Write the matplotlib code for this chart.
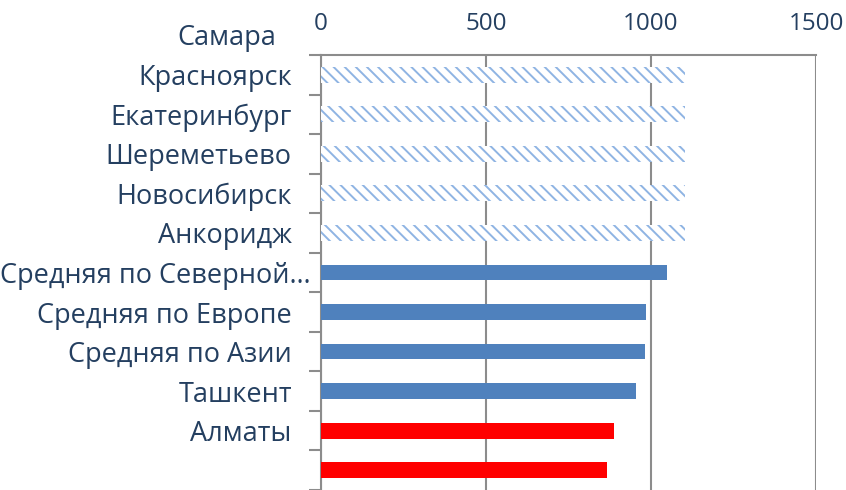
import numpy as np
import matplotlib
matplotlib.use("Agg")
import matplotlib.pyplot as plt
import matplotlib.transforms as mtransforms

# --- Data --------------------------------------------------------------------

# labels as they appear on the axis (shifted one slot up, as in the original)
top_label = "Самара"
labels = [
    "Красноярск",
    "Екатеринбург",
    "Шереметьево",
    "Новосибирск",
    "Анкоридж",
    "Средняя по Северной…",
    "Средняя по Европе",
    "Средняя по Азии",
    "Ташкент",
    "Алматы",
]

hatched_values = [1103, 1103, 1103, 1103, 1103]
blue_values = [1048, 985, 982, 955]
red_values = [888, 867]

TEXT = "#243F60"
GRID = "#8C8C8C"
BLUE = "#4F81BD"
HATCH_BLUE = "#8FB4E3"

plt.rcParams["font.family"] = ["Open Sans", "DejaVu Sans"]
plt.rcParams["hatch.linewidth"] = 1.4

fig = plt.figure(figsize=(8.46, 4.90), dpi=100)
ax = fig.add_axes([321 / 846, 0.0, (816 - 321) / 846, (490 - 55) / 490])

n_h = len(hatched_values)
n_b = len(blue_values)
pos_h = np.arange(n_h)
pos_b = np.arange(n_h, n_h + n_b)
pos_r = np.arange(n_h + n_b, n_h + n_b + len(red_values))

ax.barh(pos_h, hatched_values, height=0.4, color="white", edgecolor=HATCH_BLUE,
        hatch="\\\\\\", linewidth=0, zorder=3)
ax.barh(pos_b, blue_values, height=0.4, color=BLUE, zorder=3)
ax.barh(pos_r, red_values, height=0.4, color="#FF0000", zorder=3)

ax.set_xlim(0, 1500)
ax.set_ylim(10.5, -0.5)

ax.xaxis.tick_top()
ax.set_xticks([0, 500, 1000, 1500])
ax.tick_params(axis="x", length=0, labelsize=17.5, labelcolor=TEXT, pad=14)
ax.grid(axis="x", color=GRID, linewidth=1.5, zorder=0)

ax.set_yticks(np.arange(len(labels)))
ax.set_yticklabels(labels)
ax.tick_params(axis="y", length=0, labelsize=19.5, labelcolor=TEXT, pad=21)
ax.set_yticks(np.arange(-0.5, 11, 1), minor=True)
ax.tick_params(axis="y", which="minor", length=9, width=1.5, color=GRID)

# the truncated long label sits closer to the axis, as in the original
fig.canvas.draw()
long_label = ax.get_yticklabels()[5]
long_label.set_transform(long_label.get_transform()
                         + mtransforms.ScaledTranslation(0.19, 0, fig.dpi_scale_trans))

ax.text(-0.09, -0.93, top_label, transform=ax.get_yaxis_transform(),
        ha="right", va="center", fontsize=19.5, color=TEXT)

for side in ["right", "bottom"]:
    ax.spines[side].set_visible(False)
for side in ["left", "top"]:
    ax.spines[side].set_color(GRID)
    ax.spines[side].set_linewidth(1.5)

fig.savefig("out.png", dpi=100)
